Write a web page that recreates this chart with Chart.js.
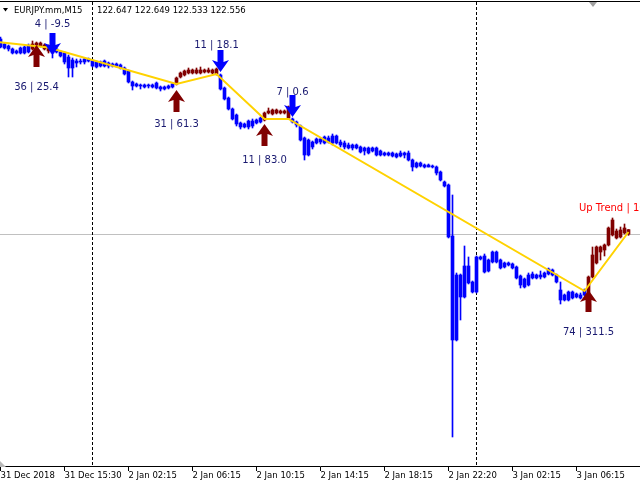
<!DOCTYPE html>
<html>
<head>
<meta charset="utf-8">
<title>EURJPY.mm,M15</title>
<script src="https://cdn.jsdelivr.net/npm/chart.js@4.4.1/dist/chart.umd.min.js"></script>
<style>
  html, body { margin: 0; padding: 0; background: #fff; }
  canvas { display: block; }
</style>
</head>
<body>
<canvas id="chart" width="640" height="480"></canvas>
<script>
// --- DATA (M15 bars, index 0 = 31 Dec 11:30) ---
const tickBars = [0, 16, 32, 48, 64, 80, 96, 112, 128, 144];
const tickLabels = ['31 Dec 2018', '31 Dec 15:30', '2 Jan 02:15', '2 Jan 06:15', '2 Jan 10:15',
  '2 Jan 14:15', '2 Jan 18:15', '2 Jan 22:20', '3 Jan 02:15', '3 Jan 06:15'];

const openVals = [
  126.46, 126.36, 126.32, 126.26, 126.22, 126.28, 126.30, 126.32, 126.26, 126.30,
  126.32, 126.26, 126.22, 126.30, 126.26, 126.20, 126.18, 126.10, 126.04, 126.02,
  126.02, 126.06, 126.06, 126.02, 126.00, 126.00, 126.02, 125.98, 125.96, 125.96,
  125.94, 125.88, 125.82, 125.60, 125.56, 125.54, 125.54, 125.54, 125.54, 125.58,
  125.50, 125.50, 125.52, 125.56, 125.56, 125.70, 125.74, 125.78, 125.78, 125.78,
  125.78, 125.80, 125.80, 125.78, 125.76, 125.74, 125.48, 125.28, 125.06, 124.94,
  124.78, 124.76, 124.82, 124.82, 124.84, 124.88, 124.84, 124.98, 124.96, 124.98,
  124.98, 124.98, 124.88, 124.86, 124.80, 124.72, 124.48, 124.44, 124.40, 124.46,
  124.46, 124.50, 124.48, 124.52, 124.52, 124.40, 124.38, 124.34, 124.34, 124.34,
  124.30, 124.28, 124.28, 124.28, 124.28, 124.22, 124.18, 124.18, 124.18, 124.16,
  124.18, 124.18, 124.18, 124.04, 123.98, 123.98, 123.94, 123.94, 123.92, 123.90,
  123.80, 123.60, 123.54, 122.52, 120.44, 121.74, 121.30, 121.92, 121.60, 121.40,
  122.10, 122.12, 122.04, 122.20, 122.20, 122.04, 121.98, 121.98, 121.96, 121.90,
  121.72, 121.66, 121.74, 121.76, 121.74, 121.74, 121.78, 121.86, 121.84, 121.74,
  121.44, 121.34, 121.40, 121.40, 121.36, 121.34, 121.44, 121.38, 121.70, 121.98,
  122.20, 122.24, 122.34, 122.54, 122.48, 122.50, 122.58, 122.647
];
const highVals = [
  126.50, 126.38, 126.34, 126.28, 126.24, 126.30, 126.32, 126.36, 126.42, 126.40,
  126.40, 126.36, 126.34, 126.32, 126.28, 126.22, 126.20, 126.14, 126.08, 126.06,
  126.06, 126.08, 126.08, 126.04, 126.02, 126.02, 126.04, 126.00, 125.98, 125.98,
  125.96, 125.90, 125.84, 125.62, 125.58, 125.56, 125.56, 125.56, 125.56, 125.60,
  125.52, 125.52, 125.54, 125.58, 125.70, 125.80, 125.84, 125.88, 125.86, 125.88,
  125.90, 125.86, 125.88, 125.86, 125.88, 125.76, 125.50, 125.30, 125.08, 124.96,
  124.80, 124.78, 124.84, 124.86, 124.86, 124.90, 125.00, 125.08, 125.06, 125.06,
  125.04, 125.04, 125.12, 124.88, 124.82, 124.74, 124.50, 124.46, 124.42, 124.48,
  124.48, 124.52, 124.52, 124.56, 124.54, 124.44, 124.42, 124.38, 124.36, 124.36,
  124.32, 124.30, 124.30, 124.30, 124.30, 124.24, 124.20, 124.20, 124.20, 124.18,
  124.22, 124.20, 124.22, 124.06, 124.00, 124.00, 123.96, 123.96, 123.94, 123.92,
  123.82, 123.62, 123.56, 123.34, 121.78, 121.76, 122.32, 122.10, 121.62, 122.12,
  122.12, 122.16, 122.06, 122.22, 122.22, 122.06, 122.00, 122.00, 121.98, 121.92,
  121.74, 121.68, 121.78, 121.80, 121.76, 121.82, 121.80, 121.88, 121.86, 121.76,
  121.60, 121.36, 121.42, 121.42, 121.38, 121.38, 121.46, 121.72, 122.30, 122.32,
  122.32, 122.36, 122.70, 122.88, 122.66, 122.70, 122.76, 122.649
];
const lowVals = [
  126.28, 126.26, 126.22, 126.16, 126.16, 126.16, 126.16, 126.18, 126.24, 126.28,
  126.30, 126.24, 126.18, 126.08, 126.18, 126.10, 125.96, 125.70, 125.70, 125.90,
  125.96, 125.96, 126.00, 125.90, 125.88, 125.90, 125.90, 125.88, 125.90, 125.90,
  125.86, 125.74, 125.58, 125.44, 125.50, 125.46, 125.48, 125.48, 125.48, 125.46,
  125.42, 125.44, 125.46, 125.48, 125.54, 125.68, 125.72, 125.76, 125.76, 125.76,
  125.76, 125.78, 125.78, 125.76, 125.74, 125.44, 125.24, 125.04, 124.84, 124.72,
  124.66, 124.68, 124.66, 124.68, 124.76, 124.78, 124.82, 124.96, 124.94, 124.96,
  124.96, 124.96, 124.86, 124.78, 124.70, 124.42, 124.04, 124.12, 124.26, 124.36,
  124.36, 124.36, 124.38, 124.34, 124.36, 124.30, 124.26, 124.26, 124.24, 124.26,
  124.18, 124.14, 124.16, 124.20, 124.12, 124.12, 124.12, 124.12, 124.10, 124.08,
  124.10, 124.08, 124.02, 123.82, 123.88, 123.90, 123.88, 123.90, 123.88, 123.74,
  123.62, 123.50, 122.48, 118.50, 120.42, 120.84, 121.28, 121.56, 121.38, 121.38,
  122.04, 121.78, 121.80, 121.98, 121.98, 121.86, 121.88, 121.92, 121.86, 121.66,
  121.48, 121.48, 121.52, 121.66, 121.66, 121.66, 121.68, 121.74, 121.72, 121.58,
  121.16, 121.22, 121.22, 121.26, 121.28, 121.26, 121.32, 121.32, 121.68, 121.96,
  122.04, 122.12, 122.32, 122.52, 122.46, 122.48, 122.56, 122.533
];
const closeVals = [
  126.30, 126.28, 126.26, 126.18, 126.18, 126.18, 126.18, 126.20, 126.36, 126.38,
  126.38, 126.34, 126.32, 126.18, 126.20, 126.12, 126.00, 125.88, 125.88, 125.98,
  126.00, 126.00, 126.02, 125.92, 125.90, 125.92, 125.92, 125.92, 125.92, 125.92,
  125.88, 125.76, 125.60, 125.52, 125.52, 125.52, 125.50, 125.52, 125.50, 125.48,
  125.46, 125.46, 125.48, 125.50, 125.68, 125.78, 125.82, 125.84, 125.84, 125.84,
  125.84, 125.84, 125.84, 125.84, 125.86, 125.46, 125.26, 125.06, 124.86, 124.76,
  124.70, 124.70, 124.70, 124.72, 124.78, 124.80, 124.98, 125.02, 125.04, 125.04,
  125.02, 125.02, 125.10, 124.80, 124.74, 124.44, 124.14, 124.14, 124.30, 124.38,
  124.40, 124.38, 124.40, 124.38, 124.38, 124.34, 124.30, 124.28, 124.28, 124.28,
  124.20, 124.22, 124.18, 124.22, 124.14, 124.14, 124.14, 124.14, 124.12, 124.10,
  124.12, 124.14, 124.04, 123.90, 123.90, 123.92, 123.90, 123.90, 123.90, 123.78,
  123.64, 123.52, 122.50, 120.44, 121.74, 121.30, 121.92, 121.58, 121.40, 122.10,
  122.06, 121.80, 121.82, 122.00, 122.00, 121.88, 121.90, 121.94, 121.88, 121.68,
  121.54, 121.50, 121.54, 121.68, 121.68, 121.70, 121.70, 121.76, 121.74, 121.60,
  121.24, 121.24, 121.24, 121.28, 121.30, 121.28, 121.34, 121.70, 122.14, 122.30,
  122.30, 122.34, 122.68, 122.84, 122.62, 122.64, 122.68, 122.556
];

// bars painted in the up-trend colour (first bar, last bar)
const upSegments = [[8, 12], [44, 54], [66, 72], [147, 157]];

// zigzag line
const zzBars = [-3, 12, 44, 54, 66, 72, 146, 157];
const zzPrices = [126.42, 126.29, 125.56, 125.76, 124.86, 124.86, 121.42, 122.60];

// signal arrows (price = arrow tip)
const upArrowBars = [9, 44, 66, 147];
const upArrowPrices = [126.34, 125.44, 124.76, 121.44];
const downArrowBars = [13, 55, 73];
const downArrowPrices = [126.14, 125.80, 124.90];

// text labels
const labelTexts = ['4 | -9.5', '36 | 25.4', '11 | 18.1', '31 | 61.3', '7 | 0.6', '11 | 83.0', '74 | 311.5'];
const labelBars = [13, 9, 54, 44, 73, 66, 147];
const labelPrices = [126.76, 125.50, 126.33, 124.76, 125.39, 124.04, 120.59];
const trendText = 'Up Trend | 10.6';
const trendBar = 145;
const trendPrice = 123.08;

const daySepBars = [23, 119];
const bidPrice = 122.556;
const symbolText = 'EURJPY.mm,M15';
const ohlcText = '122.647 122.649 122.533 122.556';

// --- COLOURS / FONTS ---
const BLUE = '#0000FF';
const MAROON = '#800000';
const ZIGZAG = '#FFD200';
const LABEL = '#191970';
const FONT = '"DejaVu Sans", Verdana, sans-serif';

const barColors = openVals.map((_, i) =>
  upSegments.some(([a, b]) => i >= a && i <= b) ? MAROON : BLUE);

const bodies = openVals.map((o, i) => ({ x: i, y: [o, closeVals[i]] }));
const wicks = lowVals.map((l, i) => ({ x: i, y: [l, highVals[i]] }));
const zigzag = zzBars.map((b, i) => ({ x: b, y: zzPrices[i] }));

// thick MT4 style arrow, dir 1 = pointing up (tip on top), -1 = pointing down
function drawArrow(ctx, cx, tip, dir, color) {
  ctx.fillStyle = color;
  ctx.beginPath();
  ctx.moveTo(cx, tip);
  ctx.lineTo(cx + 8.5, tip + dir * 12);
  ctx.lineTo(cx + 3, tip + dir * 10);
  ctx.lineTo(cx + 3, tip + dir * 22);
  ctx.lineTo(cx - 3, tip + dir * 22);
  ctx.lineTo(cx - 3, tip + dir * 10);
  ctx.lineTo(cx - 8.5, tip + dir * 12);
  ctx.closePath();
  ctx.fill();
}

const decor = {
  id: 'decor',
  beforeDatasetsDraw(chart) {
    const { ctx, chartArea: a, scales: { x, y } } = chart;
    ctx.save();
    // bid line
    const by = Math.round(y.getPixelForValue(bidPrice)) + 0.5;
    ctx.strokeStyle = '#C0C0C0';
    ctx.lineWidth = 1;
    ctx.beginPath();
    ctx.moveTo(a.left, by);
    ctx.lineTo(a.right, by);
    ctx.stroke();
    // day separators
    ctx.strokeStyle = '#000';
    ctx.setLineDash([3, 2]);
    daySepBars.forEach(b => {
      const px = Math.floor(x.getPixelForValue(b)) + 0.5;
      ctx.beginPath();
      ctx.moveTo(px, 2);
      ctx.lineTo(px, a.bottom);
      ctx.stroke();
    });
    ctx.restore();
  },
  afterDatasetsDraw(chart) {
    const { ctx, chartArea: a, scales: { x, y } } = chart;
    ctx.save();

    upArrowBars.forEach((b, i) =>
      drawArrow(ctx, x.getPixelForValue(b), y.getPixelForValue(upArrowPrices[i]), 1, MAROON));
    downArrowBars.forEach((b, i) =>
      drawArrow(ctx, x.getPixelForValue(b), y.getPixelForValue(downArrowPrices[i]), -1, BLUE));

    ctx.font = '10px ' + FONT;
    ctx.textBaseline = 'middle';
    ctx.textAlign = 'center';
    ctx.fillStyle = LABEL;
    labelTexts.forEach((t, i) =>
      ctx.fillText(t, x.getPixelForValue(labelBars[i]), y.getPixelForValue(labelPrices[i])));
    ctx.textAlign = 'left';
    ctx.fillStyle = '#FF0000';
    ctx.fillText(trendText, x.getPixelForValue(trendBar) - 1.5, y.getPixelForValue(trendPrice));

    // top border + header
    ctx.fillStyle = '#000';
    ctx.fillRect(0, 1, a.right, 1);
    ctx.beginPath();
    ctx.moveTo(3, 8);
    ctx.lineTo(8, 8);
    ctx.lineTo(5.5, 11.5);
    ctx.closePath();
    ctx.fill();
    ctx.font = '8.5px ' + FONT;
    ctx.textBaseline = 'alphabetic';
    ctx.fillText(symbolText, 14, 13);
    ctx.fillText(ohlcText, 97, 13);

    // chart shift marker and corner mark
    ctx.fillStyle = '#A0A0A0';
    ctx.beginPath();
    ctx.moveTo(589, 2);
    ctx.lineTo(597, 2);
    ctx.lineTo(593, 7);
    ctx.closePath();
    ctx.fill();
    ctx.fillStyle = '#B8B8B8';
    ctx.beginPath();
    ctx.moveTo(0, 461);
    ctx.lineTo(6, a.bottom);
    ctx.lineTo(0, a.bottom);
    ctx.closePath();
    ctx.fill();
    ctx.restore();
  }
};

new Chart(document.getElementById('chart'), {
  type: 'bar',
  data: {
    datasets: [
      {
        type: 'line',
        data: zigzag,
        borderColor: ZIGZAG,
        borderWidth: 2,
        pointRadius: 0,
        tension: 0,
        order: 0
      },
      {
        data: bodies,
        backgroundColor: barColors,
        barThickness: 3,
        minBarLength: 1,
        grouped: false,
        order: 1
      },
      {
        data: wicks,
        backgroundColor: barColors,
        barThickness: 1,
        grouped: false,
        order: 2
      }
    ]
  },
  options: {
    responsive: false,
    animation: false,
    devicePixelRatio: 1,
    layout: { padding: 0 },
    plugins: {
      legend: { display: false },
      tooltip: { enabled: false }
    },
    scales: {
      x: {
        type: 'linear',
        min: -0.125,
        max: 159.875,
        offset: false,
        grid: { drawOnChartArea: false, drawTicks: true, tickLength: 4, color: '#000', offset: false },
        border: { display: true, color: '#000', width: 1 },
        afterBuildTicks: (scale) => { scale.ticks = tickBars.map(v => ({ value: v })); },
        ticks: {
          align: 'start',
          padding: 0,
          autoSkip: false,
          maxRotation: 0,
          color: '#000',
          font: { family: FONT, size: 8.5, lineHeight: 1.06 },
          callback: (v, i) => tickLabels[i]
        }
      },
      y: { display: false, min: 117.90, max: 127.24 }
    }
  },
  plugins: [decor]
});
</script>
</body>
</html>
